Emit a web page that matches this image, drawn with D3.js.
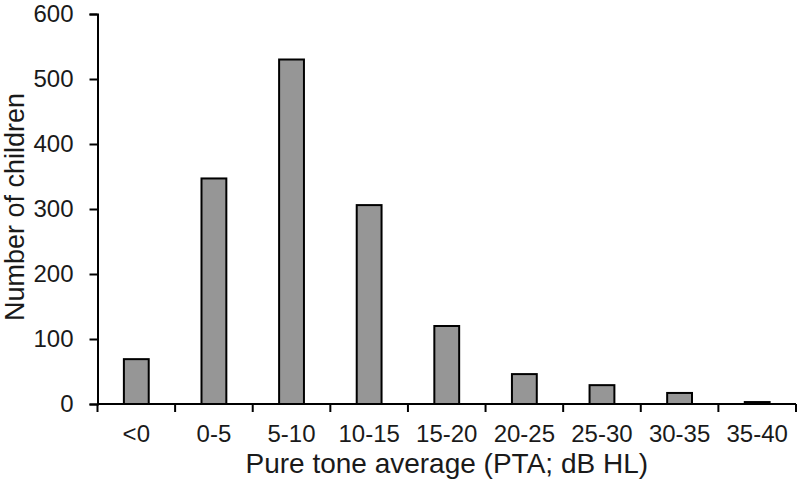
<!DOCTYPE html>
<html>
<head>
<meta charset="utf-8">
<script src="https://cdn.jsdelivr.net/npm/d3@7"></script>
<style>
  body { margin: 0; background: #fff; }
  svg text { font-family: "Liberation Sans", Arial, sans-serif; fill: #1a1a1a; }
</style>
</head>
<body>
<svg id="chart" width="800" height="485"></svg>
<script>
// PTA bins and counts of children
const categories = ["<0", "0-5", "5-10", "10-15", "15-20", "20-25", "25-30", "30-35", "35-40"];
const counts = [69, 347, 530, 306, 120, 46, 29, 17, 3];
const yTicks = [0, 100, 200, 300, 400, 500, 600];

const width = 800, height = 485;
const margin = { top: 14, right: 4, bottom: 81, left: 97.5 };

const svg = d3.select("#chart");

const x = d3.scaleBand()
  .domain(categories)
  .range([margin.left, width - margin.right])
  .padding(0);

const y = d3.scaleLinear()
  .domain([0, 600])
  .range([height - margin.bottom, margin.top]);

const barW = x.bandwidth() * 0.32;

// bars
svg.append("g")
  .selectAll("rect")
  .data(categories)
  .join("rect")
  .attr("x", d => x(d) + (x.bandwidth() - barW) / 2)
  .attr("y", (d, i) => y(counts[i]))
  .attr("width", barW)
  .attr("height", (d, i) => y(0) - y(counts[i]))
  .attr("fill", "#969696")
  .attr("stroke", "#000")
  .attr("stroke-width", 2);

// y axis
const yAxis = svg.append("g")
  .attr("transform", `translate(${margin.left},0)`)
  .call(d3.axisLeft(y).tickValues(yTicks).tickSize(8).tickPadding(16));
yAxis.select(".domain").attr("stroke-width", 2);
yAxis.selectAll(".tick line").attr("stroke-width", 2);
yAxis.selectAll("text").attr("font-size", 24).attr("fill", "#1a1a1a").attr("font-family", null);

// x axis: ticks sit on category boundaries, labels in the middle
const xAxisG = svg.append("g")
  .attr("transform", `translate(0,${y(0)})`);
xAxisG.append("line")
  .attr("x1", margin.left).attr("x2", width - margin.right)
  .attr("stroke", "#000").attr("stroke-width", 2);
xAxisG.selectAll(".xtick")
  .data(categories.concat([null]))
  .join("line")
  .attr("class", "xtick")
  .attr("x1", (d, i) => margin.left + i * x.step())
  .attr("x2", (d, i) => margin.left + i * x.step())
  .attr("y1", 0).attr("y2", 8)
  .attr("stroke", "#000").attr("stroke-width", 2);
xAxisG.selectAll(".xlabel")
  .data(categories)
  .join("text")
  .attr("class", "xlabel")
  .attr("x", d => x(d) + x.bandwidth() / 2)
  .attr("y", 38)
  .attr("text-anchor", "middle")
  .attr("font-size", 24)
  .text(d => d);

// axis titles
svg.append("text")
  .attr("x", (margin.left + width - margin.right) / 2)
  .attr("y", 473)
  .attr("text-anchor", "middle")
  .attr("font-size", 28)
  .text("Pure tone average (PTA; dB HL)");

svg.append("text")
  .attr("transform", "translate(24,207) rotate(-90)")
  .attr("text-anchor", "middle")
  .attr("font-size", 27)
  .text("Number of children");
</script>
</body>
</html>
